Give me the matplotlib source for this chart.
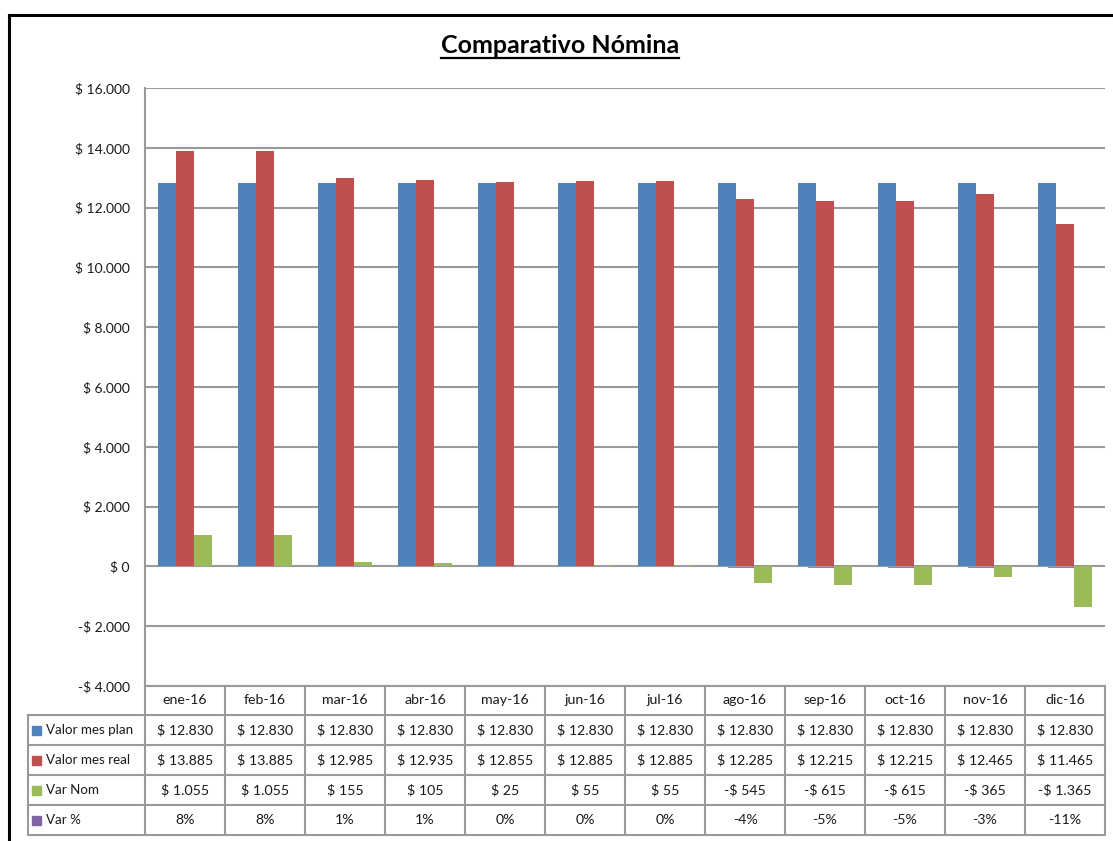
import numpy as np
import matplotlib
matplotlib.use('Agg')
import matplotlib.pyplot as plt
from matplotlib.patches import Rectangle
from matplotlib.lines import Line2D

plt.rcParams['font.family'] = ['Lato', 'DejaVu Sans']

months = ['ene-16', 'feb-16', 'mar-16', 'abr-16', 'may-16', 'jun-16',
          'jul-16', 'ago-16', 'sep-16', 'oct-16', 'nov-16', 'dic-16']
plan = [12830] * 12
real = [13885, 13885, 12985, 12935, 12855, 12885,
        12885, 12285, 12215, 12215, 12465, 11465]
var_nom = [1055, 1055, 155, 105, 25, 55, 55, -545, -615, -615, -365, -1365]
var_pct = [8, 8, 1, 1, 0, 0, 0, -4, -5, -5, -3, -11]

series_names = ['Valor mes plan', 'Valor mes real', 'Var Nom', 'Var %']
series_colors = ['#4F81BD', '#C0504D', '#9BBB59', '#8064A2']
grid_col = '#9a9a9a'
text_col = '#1a1a1a'

W, H = 1113, 841


def money(v):
    s = f"{abs(v):,}".replace(',', '.')
    return ('-' if v < 0 else '') + '$ ' + s


def fx(px):
    return px / W


def fy(py):
    return 1 - py / H


fig = plt.figure(figsize=(W / 100, H / 100), dpi=100)
fig.patch.set_facecolor('white')

# plot area (pixels): x 145-1105, y 88-686
L, R, T, B = 145, 1105, 88, 686
ax = fig.add_axes([fx(L), fy(B), (R - L) / W, (B - T) / H])
ax2 = ax.twinx()
ax.set_zorder(2)
ax2.set_zorder(1)
ax.patch.set_visible(False)

x = np.arange(len(months))
w = 0.225
ax.bar(x - w, plan, w, color=series_colors[0], zorder=3)
ax.bar(x, real, w, color=series_colors[1], zorder=3)
ax.bar(x + w, var_nom, w, color=series_colors[2], zorder=3)

# Var % sits on a hidden secondary axis
ax2.bar(x, np.array(var_pct) / 100, 0.4, color=series_colors[3],
        edgecolor=series_colors[3], linewidth=1.2)
ax2.set_ylim(-20, 80)
ax2.set_yticks([])
for s in ax2.spines.values():
    s.set_visible(False)

ax.set_xlim(-0.5, len(months) - 0.5)
ax.set_ylim(-4000, 16000)
ax.set_yticks(np.arange(-4000, 16001, 2000))
ax.set_yticklabels([money(v) for v in np.arange(-4000, 16001, 2000)])
ax.tick_params(axis='y', length=0, pad=11, labelsize=10, labelcolor=text_col)
ax.set_xticks([])
ax.yaxis.grid(True, color=grid_col, linewidth=1.5)
ax.set_axisbelow(True)
for k in ['top', 'right', 'bottom']:
    ax.spines[k].set_visible(False)
ax.spines['left'].set_color(grid_col)
ax.spines['left'].set_linewidth(1.5)

# overlay in pixel coordinates for the frame, title and data table
ov = fig.add_axes([0, 0, 1, 1], zorder=5)
ov.set_xlim(0, W)
ov.set_ylim(H, 0)
ov.axis('off')
ov.patch.set_visible(False)

# outer chart frame (only top and left visible in the crop)
ov.add_line(Line2D([9, W], [15, 15], color='black', linewidth=2.2))
ov.add_line(Line2D([9, 9], [15, H], color='black', linewidth=2.2))

title = ov.text(560, 45, 'Comparativo Nómina', ha='center', va='center',
                fontsize=18, fontweight='bold', color='black')
fig.canvas.draw()
bb = title.get_window_extent(fig.canvas.get_renderer())
ov.add_line(Line2D([bb.x0, bb.x1], [58, 58], color='black', linewidth=1.6))

# table
col_w = (R - L) / len(months)
row_edges = [686, 715, 745, 775, 805, 835]
lab_left = 28
tkw = dict(color=grid_col, linewidth=1.5)
for i in range(len(months) + 1):
    xx = L + i * col_w
    ov.add_line(Line2D([xx, xx], [row_edges[0], row_edges[-1]], **tkw))
ov.add_line(Line2D([L, R], [row_edges[0], row_edges[0]], **tkw))
for ye in row_edges[1:]:
    ov.add_line(Line2D([lab_left, R], [ye, ye], **tkw))
ov.add_line(Line2D([lab_left, lab_left], [row_edges[1], row_edges[-1]], **tkw))

fs = 10.2
for i, m in enumerate(months):
    cx = L + (i + 0.5) * col_w
    ov.text(cx, (row_edges[0] + row_edges[1]) / 2, m, ha='center', va='center',
            fontsize=fs, color=text_col)

rows = [[money(v) for v in plan],
        [money(v) for v in real],
        [money(v) for v in var_nom],
        [f"{v}%" for v in var_pct]]
for r, (name, col, vals) in enumerate(zip(series_names, series_colors, rows)):
    cy = (row_edges[r + 1] + row_edges[r + 2]) / 2
    ov.add_patch(Rectangle((32, cy - 4.5), 9, 9, color=col))
    ov.text(46, cy, name, ha='left', va='center', fontsize=9.6, color=text_col)
    for i, s in enumerate(vals):
        cx = L + (i + 0.5) * col_w
        ov.text(cx, cy, s, ha='center', va='center', fontsize=fs, color=text_col)

fig.savefig('out.png', dpi=100)
